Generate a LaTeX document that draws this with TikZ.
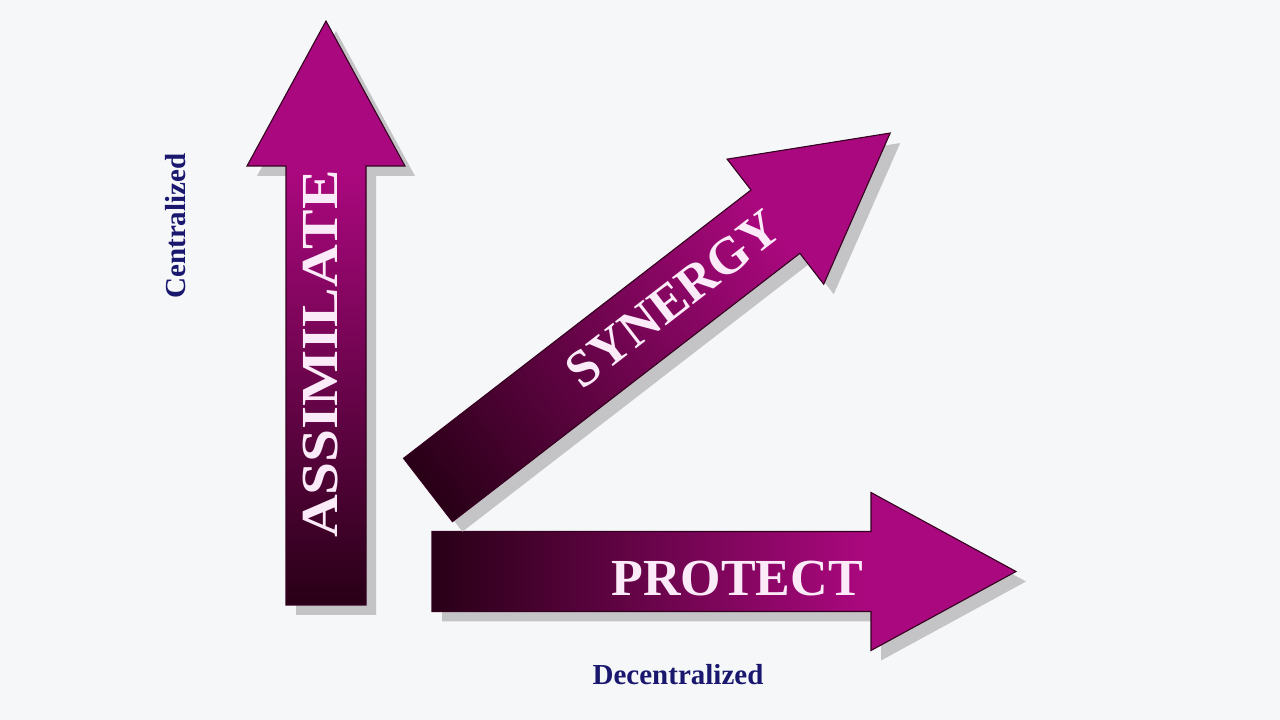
\documentclass[tikz,border=0pt]{standalone}
\usepackage{fontspec}
\setmainfont{Liberation Serif}
\definecolor{bg}{RGB}{246,247,249}
\definecolor{amag}{RGB}{170,8,126}
\definecolor{adark}{RGB}{40,0,22}
\definecolor{edge}{RGB}{52,0,32}
\definecolor{shadowgray}{RGB}{196,196,198}
\definecolor{textpink}{RGB}{251,234,247}
\definecolor{navy}{RGB}{26,24,110}
\pgfdeclarehorizontalshading{arrowshade}{100bp}{color(0bp)=(adark); color(25bp)=(adark); color(62bp)=(amag); color(100bp)=(amag)}
\newcommand\bigarrow[2]{%
  \begin{scope}[transform canvas={shift={#1}, shift={(10,-10)}, rotate=#2}]
    \fill[shadowgray] (0,-40) -- (439,-40) -- (439,-79) -- (584,0) -- (439,79) -- (439,40) -- (0,40) -- cycle;
  \end{scope}
  \begin{scope}[transform canvas={shift={#1}, rotate=#2}]
    \shadedraw[shading=arrowshade, draw=edge, line width=1.1pt, line join=miter] (0,-40) -- (439,-40) -- (439,-79) -- (584,0) -- (439,79) -- (439,40) -- (0,40) -- cycle;
  \end{scope}}
\tikzset{
  bigtext/.style={text=textpink, font=\fontsize{52}{60}\selectfont\bfseries, inner sep=0pt},
  axistext/.style={text=navy, font=\fontsize{29}{34}\selectfont\bfseries, inner sep=0pt}
}
\begin{document}
\begin{tikzpicture}[x=1pt,y=1pt]
  \fill[bg] (0,0) rectangle (1280,720);
  \useasboundingbox (0,0) rectangle (1280,720);
  \bigarrow{(326,115)}{90}
  \bigarrow{(432,148.5)}{0}
  \bigarrow{(428,230)}{37.68}
  \node[bigtext, rotate=90, xscale=1.14] (assim) at (320.5,366) {ASSIMILATE};
  \node[bigtext] (prot) at (737,141.5) {PROTECT};
  \node[bigtext, rotate=37.68] (syn) at (673,421) {SYNERGY};
  \node[axistext, rotate=90] (cent) at (176,494) {Centralized};
  \node[axistext] (dec) at (678,45) {Decentralized};
\end{tikzpicture}
\end{document}
